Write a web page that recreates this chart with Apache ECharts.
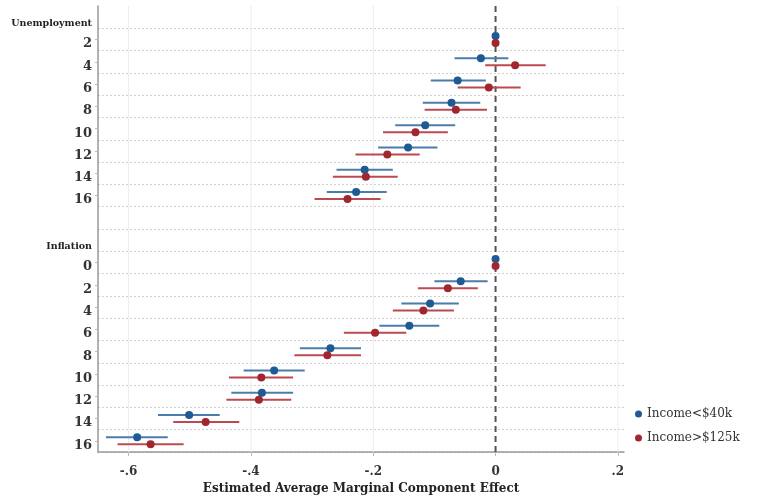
<!DOCTYPE html>
<html>
<head>
<meta charset="utf-8">
<script src="https://cdn.jsdelivr.net/npm/echarts@6/dist/echarts.min.js"></script>
<style>
  html, body { margin: 0; padding: 0; background: #fff; }
  #chart { width: 761px; height: 500px; }
</style>
</head>
<body>
<div id="chart"></div>
<script>
// rows of the y axis, top to bottom
var categories = ['Unemployment', '2', '4', '6', '8', '10', '12', '14', '16', '',
                  'Inflation', '0', '2', '4', '6', '8', '10', '12', '14', '16'];
var headers = ['Unemployment', 'Inflation'];
var unempStart = 1;   // row index of "2" under Unemployment
var inflStart = 11;   // row index of "0" under Inflation

// Unemployment, Income<$40k
var unempLowEst = [0, -0.024, -0.062, -0.072, -0.115, -0.143, -0.214, -0.228];
var unempLowLo  = [0, -0.067, -0.106, -0.119, -0.164, -0.192, -0.260, -0.276];
var unempLowHi  = [0,  0.021, -0.016, -0.025, -0.066, -0.095, -0.168, -0.178];
// Unemployment, Income>$125k
var unempHighEst = [0,  0.032, -0.011, -0.065, -0.131, -0.177, -0.212, -0.242];
var unempHighLo  = [0, -0.017, -0.062, -0.116, -0.184, -0.229, -0.266, -0.296];
var unempHighHi  = [0,  0.082,  0.041, -0.014, -0.078, -0.124, -0.160, -0.188];

// Inflation, Income<$40k
var inflLowEst = [0, -0.057, -0.107, -0.141, -0.270, -0.362, -0.382, -0.501, -0.586];
var inflLowLo  = [0, -0.100, -0.154, -0.190, -0.320, -0.412, -0.432, -0.552, -0.637];
var inflLowHi  = [0, -0.013, -0.060, -0.092, -0.220, -0.312, -0.331, -0.451, -0.536];
// Inflation, Income>$125k
var inflHighEst = [0, -0.078, -0.118, -0.197, -0.275, -0.383, -0.387, -0.474, -0.564];
var inflHighLo  = [0, -0.127, -0.168, -0.248, -0.329, -0.436, -0.440, -0.527, -0.618];
var inflHighHi  = [0, -0.029, -0.068, -0.146, -0.220, -0.331, -0.334, -0.419, -0.510];

var xTicks = [-0.6, -0.4, -0.2, 0, 0.2];
var xGridLines = [-0.6, -0.4, -0.2, 0.2];
var zeroLine = [0];

function buildRows(est, lo, hi, start, out) {
    for (var i = 0; i < est.length; i++) {
        out.push([est[i], lo[i], hi[i], start + i]);
    }
    return out;
}

var lowData = [];
buildRows(unempLowEst, unempLowLo, unempLowHi, unempStart, lowData);
buildRows(inflLowEst, inflLowLo, inflLowHi, inflStart, lowData);
var highData = [];
buildRows(unempHighEst, unempHighLo, unempHighHi, unempStart, highData);
buildRows(inflHighEst, inflHighLo, inflHighHi, inflStart, highData);

function makeRender(dy, lineColor, dotColor) {
    return function (params, api) {
        var row = api.value(3);
        var a = api.coord([api.value(1), row]);
        var b = api.coord([api.value(2), row]);
        var c = api.coord([api.value(0), row]);
        return {
            type: 'group',
            children: [
                {type: 'line', shape: {x1: a[0], y1: a[1] + dy, x2: b[0], y2: b[1] + dy},
                 style: {stroke: lineColor, lineWidth: 2}},
                {type: 'circle', shape: {cx: c[0], cy: c[1] + dy, r: 4},
                 style: {fill: dotColor}}
            ]
        };
    };
}

// full-height vertical line at an x value
function makeVLine(color, width, dash) {
    return function (params, api) {
        var p = api.coord([api.value(0), 0]);
        var cs = params.coordSys;
        return {
            type: 'line',
            shape: {x1: p[0], y1: cs.y, x2: p[0], y2: cs.y + cs.height},
            style: {stroke: color, lineWidth: width, lineDash: dash}
        };
    };
}

var serif = 'DejaVu Serif';
var chart = echarts.init(document.getElementById('chart'));

var option = {
    animation: false,
    grid: {left: 98, right: 137, top: 6, bottom: 48},
    legend: {
        orient: 'vertical',
        left: 630,
        top: 403,
        itemWidth: 7,
        itemHeight: 7,
        itemGap: 12,
        textStyle: {fontFamily: serif, fontSize: 12, color: '#333'},
        data: [
            {name: 'Income<$40k', icon: 'circle'},
            {name: 'Income>$125k', icon: 'circle'}
        ]
    },
    xAxis: {
        type: 'value',
        min: -0.65,
        max: 0.21,
        name: 'Estimated Average Marginal Component Effect',
        nameLocation: 'middle',
        nameGap: 31,
        nameTextStyle: {fontFamily: serif, fontWeight: 'bold', fontSize: 12, color: '#222'},
        axisLine: {show: true, onZero: false, lineStyle: {color: '#999', width: 1.5}},
        axisTick: {show: true, customValues: xTicks, length: 4, lineStyle: {color: '#bbb'}},
        axisLabel: {
            customValues: xTicks,
            margin: 14,
            fontFamily: serif,
            fontWeight: 'bold',
            fontSize: 12,
            color: '#333',
            formatter: function (v) {
                if (Math.abs(v) < 1e-9) return '0';
                var s = String(Math.round(v * 10) / 10);
                return s.replace('0.', '.');
            }
        },
        splitLine: {show: false}
    },
    yAxis: {
        type: 'category',
        inverse: true,
        data: categories,
        axisLine: {show: true, onZero: false, lineStyle: {color: '#999', width: 1.5}},
        axisTick: {
            show: true,
            alignWithLabel: true,
            length: 3,
            interval: function (index, value) {
                return value !== '' && headers.indexOf(value) < 0;
            },
            lineStyle: {color: '#bbb'}
        },
        axisLabel: {
            margin: 6,
            formatter: function (v) {
                if (headers.indexOf(v) >= 0) return '{h|' + v + '}';
                return '{n|' + v + '}';
            },
            rich: {
                h: {fontFamily: serif, fontWeight: 'bold', fontSize: 9.5, color: '#222', padding: [12, 0, 0, 0]},
                n: {fontFamily: serif, fontWeight: 'bold', fontSize: 13, color: '#333', padding: [9, 0, 0, 0]}
            }
        },
        splitLine: {
            show: true,
            interval: function (index) { return index > 0; },
            lineStyle: {color: '#cfcfcf', width: 1, type: [2, 2]}
        }
    },
    series: [
        {
            name: 'grid',
            type: 'custom',
            silent: true,
            renderItem: makeVLine('#ececec', 1, null),
            encode: {x: 0, y: 1},
            data: xGridLines.map(function (v) { return [v, 0]; }),
            z: 1
        },
        {
            name: 'zero',
            type: 'custom',
            silent: true,
            renderItem: makeVLine('#555', 2, [6, 4]),
            encode: {x: 0, y: 1},
            data: zeroLine.map(function (v) { return [v, 0]; }),
            z: 2
        },
        {
            name: 'Income<$40k',
            type: 'custom',
            itemStyle: {color: '#1e5a94'},
            renderItem: makeRender(-3.5, '#4a7cad', '#1e5a94'),
            encode: {x: 0, y: 3},
            data: lowData,
            z: 3
        },
        {
            name: 'Income>$125k',
            type: 'custom',
            itemStyle: {color: '#a0262f'},
            renderItem: makeRender(3.5, '#bb4a53', '#a0262f'),
            encode: {x: 0, y: 3},
            data: highData,
            z: 3
        }
    ]
};

chart.setOption(option);
</script>
</body>
</html>
